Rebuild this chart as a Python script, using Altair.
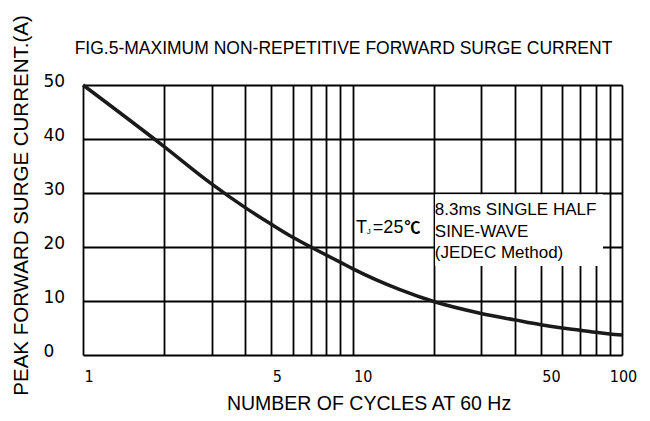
import altair as alt
import pandas as pd

# Curve data
cycles = [1, 2, 3, 4, 5, 6, 7, 8, 9, 10, 15, 20, 30, 40, 50, 60, 70, 80, 90, 100]
current = [50, 38.6, 31.7, 27.3, 24.2, 21.8, 20.0, 18.5, 17.2, 16.0, 12.1, 9.9, 7.7, 6.5, 5.6, 5.0, 4.6, 4.2, 3.9, 3.7]

x_grid = [1, 2, 3, 4, 5, 6, 7, 8, 9, 10, 20, 30, 40, 50, 60, 70, 80, 90, 100]
x_labels = [1, 5, 10, 50, 100]
y_ticks = [0, 10, 20, 30, 40, 50]

chart_title = "FIG.5-MAXIMUM NON-REPETITIVE FORWARD SURGE CURRENT"
note_lines = ["8.3ms SINGLE HALF", "SINE-WAVE", "(JEDEC Method)"]
note_y = [26.85, 22.8, 18.9]

FONT = "Liberation Sans, Arial, sans-serif"
CJK = "Noto Sans CJK SC"

df = pd.DataFrame({"cycles": cycles, "current": current})

xscale = alt.Scale(type="log", domain=[1, 100], nice=False)
yscale = alt.Scale(domain=[0, 50], nice=False)

cond = " || ".join(f"datum.value == {v}" for v in x_labels)
label_expr = f"({cond}) ? format(datum.value, 'd') : ''"

xaxis = alt.Axis(
    values=x_grid, labelExpr=label_expr, ticks=False, domain=False,
    grid=True, gridColor="#000", gridWidth=1.8, gridOpacity=1,
    labelAlign=alt.ExprRef(expr=f"datum.value == {x_labels[-1]} ? 'center' : 'left'"),
    labelBaseline="top", labelPadding=13, labelOffset=1,
    labelFont="DejaVu Sans Condensed, DejaVu Sans", labelFontSize=16, labelColor="#000",
    title="NUMBER OF CYCLES AT 60 Hz", titleFont=FONT, titleFontSize=19.5,
    titleFontWeight="normal", titleColor="#000",
    titleX=285.5, titleY=54, titleBaseline="alphabetic", titleAlign="center",
    labelOverlap=False,
)
yaxis = alt.Axis(
    values=y_ticks, ticks=False, domain=False,
    grid=True, gridColor="#000", gridWidth=1.8, gridOpacity=1,
    labelAlign="left", labelBaseline="middle", labelPadding=40, labelOffset=-4,
    labelFont="DejaVu Sans", labelFontSize=17, labelColor="#000",
    title="PEAK FORWARD SURGE CURRENT.(A)", titleFont=FONT, titleFontSize=20.5,
    titleFontWeight="normal", titleColor="#000",
    titleX=-56, titleY=120, titleBaseline="alphabetic", titleAlign="center", titleAngle=270,
)

curve = alt.Chart(df).mark_line(color="#1a1a1a", strokeWidth=3.5, interpolate="monotone").encode(
    x=alt.X("cycles:Q", scale=xscale, axis=xaxis),
    y=alt.Y("current:Q", scale=yscale, axis=yaxis),
)

box = alt.Chart(pd.DataFrame({"a": [0]})).mark_rect(color="white").encode(
    x=alt.datum(20.25, scale=xscale),
    x2=alt.datum(85),
    y=alt.datum(29.75, scale=yscale),
    y2=alt.datum(16.5),
)

notes_df = pd.DataFrame({"t": note_lines, "y": note_y})
notes = alt.Chart(notes_df).mark_text(
    align="left", baseline="middle", font=FONT, fontSize=17, color="#000"
).encode(
    x=alt.datum(20.2, scale=xscale),
    y=alt.Y("y:Q", scale=yscale),
    text="t:N",
)

def label(txt, xv, yv, size, font=FONT, weight="normal"):
    return alt.Chart(pd.DataFrame({"t": [txt]})).mark_text(
        align="left", baseline="middle", font=font, fontSize=size,
        fontWeight=weight, color="#000"
    ).encode(x=alt.datum(xv, scale=xscale), y=alt.datum(yv, scale=yscale), text="t:N")

tj_T = label("T", 10.3, 23.45, 18)
tj_J = label("J", 11.3, 22.7, 8)
tj_eq = label("=25", 11.9, 23.45, 18)
tj_deg = label("℃", 15.6, 23.45, 16, font=CJK, weight="bold")

title = alt.Chart(pd.DataFrame({"t": [chart_title]})).mark_text(
    align="center", baseline="middle", font=FONT, fontSize=17.5, color="#000"
).encode(x=alt.value(260.5), y=alt.value(-36.5), text="t:N")

chart = alt.layer(box, curve, notes, tj_T, tj_J, tj_eq, tj_deg, title).properties(
    width=539, height=270,
    autosize=alt.AutoSizeParams(type="none"),
    padding={"left": 75, "top": 77, "right": 20, "bottom": 58},
).configure_view(stroke=None).configure(background="white")

chart.save("out.html", embed_options={"renderer": "svg", "actions": False})
